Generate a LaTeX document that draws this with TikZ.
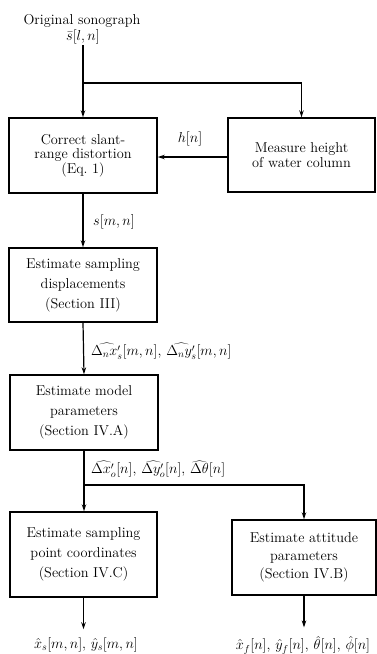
\documentclass[tikz,border=0pt]{standalone}
\usetikzlibrary{arrows.meta}
\begin{document}
\begin{tikzpicture}[x=1pt,y=-1pt,
  every node/.style={font=\fontsize{14.3}{20}\selectfont},
  box/.style={draw, line width=1.4pt, align=center, inner sep=2pt, minimum width=148pt},
  arr/.style={-{Stealth[length=7pt,width=4.5pt]}, line width=1.2pt},
  lbl/.style={anchor=west, inner sep=0pt}]
\useasboundingbox (0,0) rectangle (377,654);
\node[inner sep=1pt] (srct) at (82,21) {Original sonograph};
\node[inner sep=1pt] (src) at (83,37) {$\bar s[l,n]$};
\node[box, minimum height=75pt, font=\fontsize{14.3}{14.5}\selectfont] (b1) at (83,155.5) {Correct slant-\\range distortion\\(Eq.~1)};
\node[box, minimum width=147pt, minimum height=74pt, font=\fontsize{14.3}{15}\selectfont] (b2) at (301.5,155) {Measure height\\of water column};
\node[box, minimum height=74pt] (b3) at (83,285) {Estimate sampling\\displacements\\(Section III)};
\node[box, minimum height=75pt] (b4) at (84,412.5) {Estimate model\\parameters\\(Section IV.A)};
\node[box, minimum width=147pt, minimum height=85pt] (b5) at (83.5,554.5) {Estimate sampling\\point coordinates\\(Section IV.C)};
\node[box, minimum width=144pt, minimum height=75pt, font=\fontsize{14.3}{18}\selectfont] (b6) at (304,557.5) {Estimate attitude\\parameters\\(Section IV.B)};
\node (o1) at (86,645) {$\hat x_s[m,n],\,\hat y_s[m,n]$};
\node (o2) at (303,645) {$\hat x_f[n],\,\hat y_f[n],\,\hat\theta[n],\,\hat\phi[n]$};
\coordinate (j1) at (83,83);
\coordinate (j2) at (84,485);
\draw[arr] (src.south) -- (b1.north);
\draw[arr] (j1) -| (b2.north);
\draw[arr] (b2.west |- 0,157) -- (b1.east |- 0,157);
\node (hl) at (190,139) {$h[n]$};
\draw[arr] (b1.south) -- (b3.north);
\node[lbl] (l1) at (93,222) {$s[m,n]$};
\draw[arr] (b3.south) -- (b4.north);
\node[lbl] (l2) at (91,351) {$\widehat{\Delta_n x'_s}[m,n],\,\widehat{\Delta_n y'_s}[m,n]$};
\draw[arr] (b4.south) -- (b4.south |- b5.north);
\node[lbl] (l3) at (91,469) {$\widehat{\Delta x'_o}[n],\,\widehat{\Delta y'_o}[n],\,\widehat{\Delta\theta}[n]$};
\draw[arr] (j2) -| (b6.north);
\draw[arr, shorten >=5pt] (b5.south) -- (b5.south |- o1.north);
\draw[arr, shorten >=5pt] (b6.south) -- (b6.south |- o2.north);
\end{tikzpicture}
\end{document}
